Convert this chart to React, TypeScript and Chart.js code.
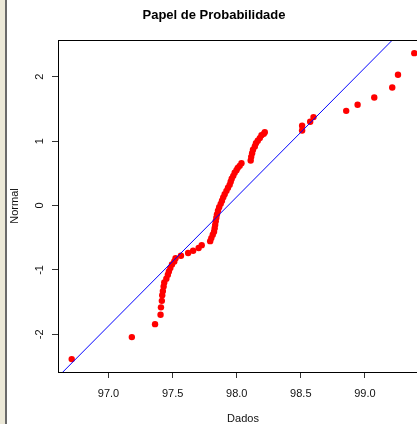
import React, { useEffect, useRef } from "react";
import { Chart, registerables } from "chart.js";

Chart.register(...registerables);

// Sample values (sorted data)
const dataValues = [
  96.713, 97.182, 97.363, 97.406, 97.409, 97.416, 97.419, 97.424, 97.43, 97.435,
  97.451, 97.463, 97.471, 97.482, 97.495, 97.513, 97.523, 97.565, 97.621, 97.66,
  97.703, 97.727, 97.793, 97.802, 97.813, 97.823, 97.828, 97.832, 97.836, 97.841,
  97.846, 97.854, 97.863, 97.875, 97.885, 97.895, 97.906, 97.92, 97.932, 97.945,
  97.953, 97.961, 97.973, 97.984, 97.998, 98.008, 98.023, 98.037, 98.109, 98.113,
  98.12, 98.127, 98.141, 98.15, 98.164, 98.18, 98.193, 98.211, 98.219, 98.51,
  98.51, 98.573, 98.599, 98.854, 98.943, 99.073, 99.213, 99.258, 99.385,
];
// Normal scores
const normalScores = [
  -2.385, -2.043, -1.842, -1.697, -1.581, -1.48, -1.394, -1.329, -1.258, -1.196,
  -1.138, -1.076, -1.025, -0.972, -0.916, -0.87, -0.817, -0.781, -0.738, -0.703,
  -0.66, -0.615, -0.553, -0.506, -0.455, -0.408, -0.354, -0.3, -0.245, -0.191,
  -0.137, -0.082, -0.028, 0.026, 0.073, 0.127, 0.174, 0.228, 0.275, 0.321,
  0.368, 0.415, 0.461, 0.508, 0.547, 0.585, 0.616, 0.658, 0.699, 0.756,
  0.811, 0.865, 0.916, 0.966, 1.005, 1.047, 1.09, 1.113, 1.137, 1.165,
  1.238, 1.3, 1.373, 1.47, 1.564, 1.677, 1.832, 2.03, 2.366,
];

// Reference line (qqline): mean and standard deviation
const lineMean = 97.933;
const lineSd = 0.4987;

const xTicks = [97.0, 97.5, 98.0, 98.5, 99.0];
const yTicks = [-2, -1, 0, 1, 2];
const xRange = [96.606, 99.492];
const yRange = [-2.585, 2.57];

const FONT = '"Liberation Sans", Arial, Helvetica, sans-serif';

const boxPlugin = {
  id: "plotBox",
  afterDraw(chart: any) {
    const { ctx, chartArea } = chart;
    ctx.save();
    ctx.strokeStyle = "#000";
    ctx.lineWidth = 1;
    const l = Math.round(chartArea.left) + 0.5;
    const t = Math.round(chartArea.top) + 0.5;
    const r = Math.round(chartArea.right) - 0.5;
    const b = Math.round(chartArea.bottom) + 0.5;
    ctx.strokeRect(l, t, r - l, b - t);
    ctx.restore();
  },
};

export default function App() {
  const ref = useRef<HTMLCanvasElement>(null);

  useEffect(() => {
    const canvas = ref.current;
    if (!canvas) return;
    const points = dataValues.map((x, i) => ({ x, y: normalScores[i] }));
    const linePts = [xRange[0] - 0.2, xRange[1] + 0.2].map((x) => ({
      x,
      y: (x - lineMean) / lineSd,
    }));

    const chart = new Chart(canvas, {
      type: "scatter",
      data: {
        datasets: [
          {
            type: "line",
            data: linePts,
            borderColor: "#0000FF",
            borderWidth: 1,
            pointRadius: 0,
            fill: false,
            order: 0,
          } as any,
          {
            data: points,
            backgroundColor: "#FF0000",
            borderWidth: 0,
            pointRadius: 3.2,
            order: 1,
          },
        ],
      },
      options: {
        animation: false,
        responsive: false,
        maintainAspectRatio: false,
        layout: { padding: { left: 0, right: 12, top: 0, bottom: 0 } },
        plugins: {
          legend: { display: false },
          tooltip: { enabled: false },
          title: {
            display: true,
            text: "Papel de Probabilidade",
            color: "#000",
            font: { family: FONT, size: 13, weight: "bold" },
            padding: { top: 8, bottom: 16.4 },
          },
        },
        scales: {
          x: {
            type: "linear",
            min: xRange[0],
            max: xRange[1],
            afterBuildTicks: (s: any) => {
              s.ticks = xTicks.map((v) => ({ value: v }));
            },
            afterFit: (s: any) => {
              s.height = 52;
            },
            ticks: {
              callback: (v: any) => Number(v).toFixed(1),
              color: "#111",
              font: { family: FONT, size: 11 },
              padding: 9,
              maxRotation: 0,
              minRotation: 0,
            },
            grid: {
              drawOnChartArea: false,
              drawTicks: true,
              tickLength: 6,
              color: "#333",
            },
            border: { display: false },
            title: {
              display: true,
              text: "Dados",
              color: "#111",
              font: { family: FONT, size: 11 },
              padding: { top: 0, bottom: -2 },
            },
          },
          y: {
            type: "linear",
            min: yRange[0],
            max: yRange[1],
            afterBuildTicks: (s: any) => {
              s.ticks = yTicks.map((v) => ({ value: v }));
            },
            afterFit: (s: any) => {
              s.width = 58;
            },
            ticks: {
              callback: (v: any) => String(v),
              color: "#111",
              font: { family: FONT, size: 11 },
              padding: 7,
              minRotation: 90,
              maxRotation: 90,
              crossAlign: "center",
            },
            grid: {
              drawOnChartArea: false,
              drawTicks: true,
              tickLength: 6,
              color: "#333",
            },
            border: { display: false },
            title: {
              display: true,
              text: "Normal",
              color: "#111",
              font: { family: FONT, size: 11 },
              padding: { top: 8, bottom: 0 },
            },
          },
        },
      } as any,
      plugins: [boxPlugin],
    });
    return () => chart.destroy();
  }, []);

  return (
    <div
      style={{
        position: "fixed",
        left: 0,
        top: 0,
        width: 417,
        height: 424,
        overflow: "hidden",
        background: "#fff",
      }}
    >
      <canvas ref={ref} width={440} height={424} style={{ display: "block" }} />
      <div
        style={{
          position: "absolute",
          left: 0,
          top: 0,
          width: 5,
          height: 424,
          background: "#ECE9D8",
          borderRight: "2px solid #6a6a6a",
        }}
      />
    </div>
  );
}
